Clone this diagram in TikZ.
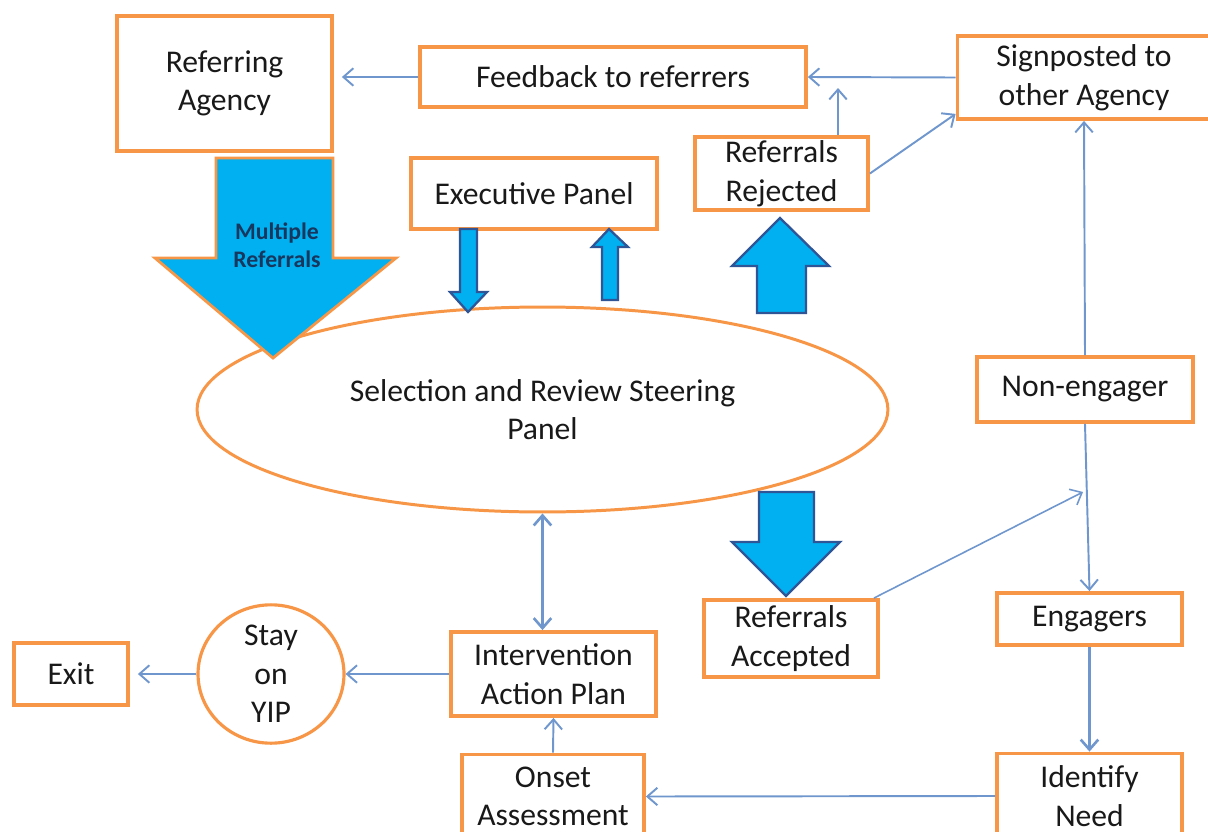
\documentclass[tikz,border=0pt]{standalone}
\usepackage{fontspec}
\setmainfont{Carlito}
\usetikzlibrary{shapes.geometric, arrows.meta}

\definecolor{boxorange}{RGB}{247,150,70}
\definecolor{arrowcyan}{RGB}{0,176,240}
\definecolor{arrowrim}{RGB}{47,85,151}
\definecolor{linkblue}{RGB}{111,150,205}
\definecolor{navytext}{RGB}{23,55,94}

\begin{document}
\begin{tikzpicture}[x=0.02cm, y=-0.02cm,
	box/.style={draw=boxorange, line width=2.2pt, fill=white, align=center, inner sep=0pt, text=black!90, font=\fontsize{18}{22}\selectfont},
	link/.style={draw=linkblue, line width=1.1pt, -{Straight Barb[length=2mm, width=3.5mm]}},
	blockarrow/.style={fill=arrowcyan, draw=arrowrim, line width=1.3pt, line join=miter}]
	\useasboundingbox (0,0) rectangle (1208,832);

	% top row
	\node[box, minimum width=4.3cm, minimum height=2.7cm] (agency) at (224.5,83.5) {Referring\\Agency};
	\node[box, minimum width=7.72cm, minimum height=1.2cm] (feedback) at (613,77) {Feedback to referrers};
	\node[box, minimum width=5.06cm, minimum height=1.66cm] (signpost) at (1084,77.5) {Signposted to\\other Agency};
	\node[box, minimum width=3.46cm, minimum height=1.46cm] (rejected) at (781.5,173.5) {Referrals\\Rejected};
	\node[box, minimum width=4.92cm, minimum height=1.42cm] (exec) at (534,193.5) {Executive Panel};

	% steering panel
	\node[draw=boxorange, line width=1.7pt, ellipse, minimum width=13.82cm, minimum height=4.1cm, align=center,
		font=\fontsize{18}{22}\selectfont, text=black!90] (panel) at (542.5,409.5) {Selection and Review Steering\\Panel};

	% right column
	\node[box, minimum width=4.32cm, minimum height=1.3cm] (nonengager) at (1085,389.5) {Non-engager};
	\node[box, minimum width=3.7cm, minimum height=1.04cm] (engagers) at (1089.5,619) {Engagers};
	\node[box, minimum width=3.7cm, minimum height=1.7cm] (identify) at (1089.5,796) {Identify\\Need};
	\node[box, minimum width=3.48cm, minimum height=1.54cm] (accepted) at (791,638.5) {Referrals\\Accepted};

	% bottom left
	\node[box, minimum width=3.64cm, minimum height=1.68cm] (onset) at (553,796.5) {Onset\\Assessment};
	\node[box, minimum width=4.1cm, minimum height=1.68cm] (plan) at (553.5,674) {Intervention\\Action Plan};
	\node[box, ellipse, line width=1.8pt, minimum width=2.92cm, minimum height=2.24cm, font=\fontsize{18}{22}\selectfont] (stay) at (271,674) {Stay\\on\\YIP};
	\node[box, minimum width=2.28cm, minimum height=1.24cm] (exit) at (71,674) {Exit};

	% block arrows
	\draw[blockarrow, draw=boxorange, line width=1.6pt] (216,158) -- (333,158) -- (333,258) -- (396,258) -- (273,358) -- (155,258) -- (216,258) -- cycle;
	\node[align=center, text=navytext, font=\fontsize{13.5}{16}\selectfont\bfseries] (multi) at (277,245) {Multiple\\Referrals};
	\draw[blockarrow] (460,229) -- (477,229) -- (477,292) -- (487,292) -- (468,312) -- (450,292) -- (460,292) -- cycle;
	\draw[blockarrow] (602,300) -- (618,300) -- (618,247) -- (628,247) -- (609,229) -- (592,247) -- (602,247) -- cycle;
	\draw[blockarrow] (757,313) -- (806,313) -- (806,266) -- (829,266) -- (780,218) -- (732,266) -- (757,266) -- cycle;
	\draw[blockarrow] (759,492) -- (814,492) -- (814,542) -- (840,542) -- (786,596) -- (732,542) -- (759,542) -- cycle;

	% connectors
	\coordinate (fbin) at (838,88);
	\coordinate (acctip) at (1083,492);
	\foreach \a/\b in {signpost.west/feedback.east, nonengager.north/signpost.south, nonengager.south/engagers.north,
		identify.west/onset.east, onset.north/plan.south, plan.west/stay.east}
		\draw[link] (\a) -- (\b);
	\draw[link, shorten >=0.16cm] (feedback.west) -- (agency.east |- feedback.west);
	\draw[link] (rejected.north -| fbin) -- (fbin);
	\draw[link] (rejected.east) -- ([yshift=0.14cm]signpost.south west);
	\draw[link, line width=0.9pt] ([xshift=-0.12cm]accepted.north east) -- (acctip);
	\draw[link, line width=1.5pt] (engagers.south) -- (identify.north);
	\draw[link, line width=1.5pt, {Straight Barb[length=2mm, width=3.5mm]}-{Straight Barb[length=2mm, width=3.5mm]}] (panel.south) -- (panel.south |- plan.north);
	\draw[link, shorten >=0.16cm] (stay.west) -- (exit.east);
\end{tikzpicture}
\end{document}
